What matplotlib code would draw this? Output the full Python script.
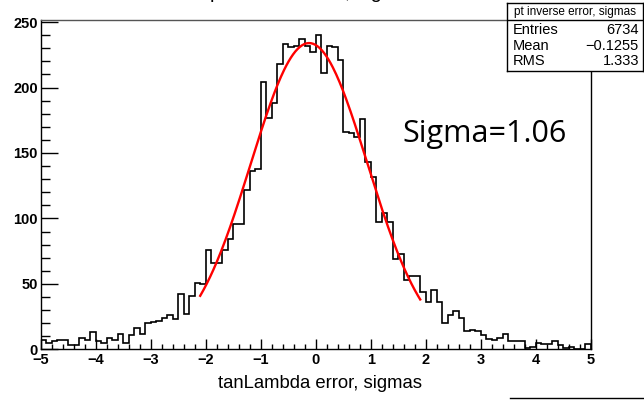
import numpy as np
import matplotlib
matplotlib.use('Agg')
from matplotlib import pyplot as plt
from matplotlib.lines import Line2D
from matplotlib.ticker import MultipleLocator

# histogram: 100 bins from -5 to 5
bin_lo, bin_hi, n_bins = -5.0, 5.0, 100
counts = [7, 5, 6, 7, 7, 3, 3, 9, 7, 13,
          6, 5, 9, 7, 12, 5, 11, 16, 12, 20,
          21, 22, 24, 26, 23, 42, 27, 41, 51, 50,
          76, 66, 66, 76, 84, 96, 96, 122, 136, 138,
          204, 177, 188, 218, 233, 231, 232, 237, 232, 227,
          240, 211, 232, 231, 221, 166, 165, 162, 176, 143,
          132, 97, 104, 97, 69, 73, 53, 56, 56, 44,
          36, 45, 36, 20, 26, 29, 24, 14, 15, 14,
          11, 8, 7, 9, 12, 6, 6, 6, 1, 2,
          5, 4, 4, 6, 3, 1, 2, 0, 0, 4]

# gaussian fit drawn over the peak
fit_amp, fit_mean, fit_sigma = 234.0, -0.12, 1.06
fit_lo, fit_hi = -2.1, 1.9

stats_title = 'pt inverse error, sigmas'
stats_names = ['Entries', 'Mean', 'RMS']
stats_values = ['6734', '\u22120.1255', '1.333']

plt.rcParams['font.family'] = ['Liberation Sans', 'DejaVu Sans']
plt.rcParams['axes.unicode_minus'] = True

W, H = 644.0, 400.0
fig = plt.figure(figsize=(6.44, 4.0), dpi=100)
ax = fig.add_axes([40.7 / W, 1 - 349.3 / H, 550 / W, (349.3 - 19.5) / H])

edges = np.linspace(bin_lo, bin_hi, n_bins + 1)
ax.stairs(counts, edges, color='black', linewidth=1.2)

xf = np.linspace(fit_lo, fit_hi, 200)
yf = fit_amp * np.exp(-0.5 * ((xf - fit_mean) / fit_sigma) ** 2)
ax.plot(xf, yf, color='#ff0000', linewidth=1.7)

ax.set_xlim(bin_lo, bin_hi)
ax.set_ylim(0, 252)
ax.xaxis.set_major_locator(MultipleLocator(1))
ax.xaxis.set_minor_locator(MultipleLocator(0.2))
ax.yaxis.set_major_locator(MultipleLocator(50))
ax.yaxis.set_minor_locator(MultipleLocator(10))
ax.tick_params(axis='x', which='major', direction='in', length=7.2, width=1.0, pad=3)
ax.tick_params(axis='x', which='minor', direction='in', length=3.4, width=1.0)
ax.tick_params(axis='y', which='major', direction='in', length=12, width=1.0, pad=2)
ax.tick_params(axis='y', which='minor', direction='in', length=6.3, width=1.0)
for lab in ax.get_xticklabels() + ax.get_yticklabels():
    lab.set_fontsize(10.5)
    lab.set_fontweight('bold')
for s in ax.spines.values():
    s.set_linewidth(1.0)
ax.spines['top'].set_color('#555555')

fig.text(320 / W, 1 - 383 / H, 'tanLambda error, sigmas', ha='center', va='center',
         fontsize=13.3)
fig.text(315 / W, 1 + 2.0 / H, stats_title, ha='center', va='baseline', fontsize=14.5)
fig.text(402 / W, 1 - 141.7 / H, 'Sigma=1.06', ha='left', va='baseline',
         fontsize=22, family=['Open Sans', 'DejaVu Sans'])

# stats box
box = fig.add_axes([507 / W, 1 - 71 / H, (643 - 507) / W, (71 - 3) / H])
box.set_xlim(0, 1)
box.set_ylim(0, 68)
box.set_xticks([])
box.set_yticks([])
for s in box.spines.values():
    s.set_linewidth(1.0)
box.axhline(68 - 16.5, color='black', linewidth=1.0)
box.text(0.5, 68 - 9, stats_title, ha='center', va='center', fontsize=8.5)
for i, (n, v) in enumerate(zip(stats_names, stats_values)):
    yy = 68 - 27 - i * 15.5
    box.text(0.04, yy, n, ha='left', va='center', fontsize=10.5)
    box.text(0.97, yy, v, ha='right', va='center', fontsize=10.5)

fig.add_artist(Line2D([510 / W, 1.0], [1 - 398 / H, 1 - 398 / H], color='black',
                      linewidth=1.0))

plt.savefig('out.png', dpi=100)
